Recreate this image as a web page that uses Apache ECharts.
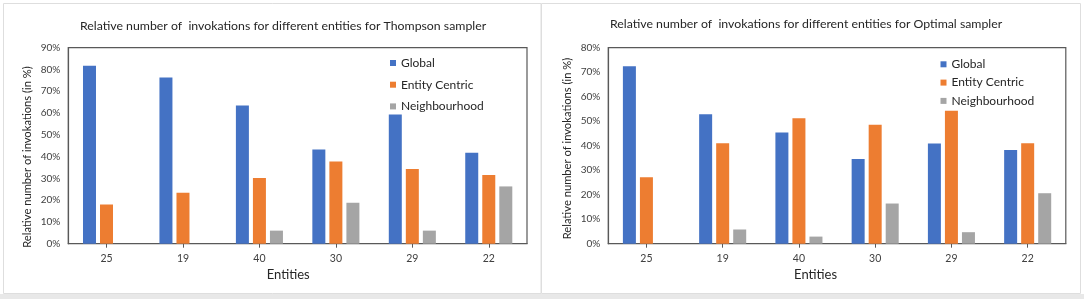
<!DOCTYPE html>
<html>
<head>
<meta charset="utf-8">
<script src="https://cdn.jsdelivr.net/npm/echarts@6/dist/echarts.min.js"></script>
<style>
  html, body { margin: 0; padding: 0; background: #fff; }
  #chart { width: 1084px; height: 299px; }
</style>
</head>
<body>
<div id="chart"></div>
<script>
// entities on the x axis (same order in both panels)
const entities = ['25', '19', '40', '30', '29', '22']

// Thompson sampler (left panel), percent
const thompsonGlobal = [81.7, 76.3, 63.5, 43.3, 59.3, 41.8]
const thompsonEntity = [18.0, 23.4, 30.2, 37.7, 34.3, 31.6]
const thompsonNeighbour = [0, 0, 6.0, 18.8, 6.0, 26.3]

// Optimal sampler (right panel), percent
const optimalGlobal = [72.4, 52.8, 45.4, 34.6, 40.9, 38.2]
const optimalEntity = [27.1, 41.0, 51.2, 48.6, 54.3, 41.0]
const optimalNeighbour = [0, 5.8, 2.9, 16.4, 4.7, 20.6]

const seriesNames = ['Global', 'Entity Centric', 'Neighbourhood']
const colors = ['#4472C4', '#ED7D31', '#A5A5A5']
const yName = 'Relative number of invokations (in %)'

const font = 'Lato, "Open Sans", sans-serif'
const axisColor = '#595959'
const textColor = '#404040'

const chart = echarts.init(document.getElementById('chart'))

function xAxisFor(gridIndex, namePad) {
  return {
    type: 'category',
    gridIndex: gridIndex,
    data: entities,
    name: 'Entities',
    nameLocation: 'middle',
    nameGap: 21,
    nameTextStyle: { color: '#262626', fontSize: 13, fontFamily: font, padding: [0, namePad, 0, 0] },
    axisLine: { lineStyle: { color: axisColor, width: 1.2 } },
    axisTick: { show: true, alignWithLabel: true, length: 4, lineStyle: { color: axisColor } },
    axisLabel: { color: textColor, fontSize: 10.5, fontFamily: font, margin: 9 }
  }
}

function yAxisFor(gridIndex, max) {
  return {
    type: 'value',
    gridIndex: gridIndex,
    min: 0,
    max: max,
    interval: 10,
    axisLine: { show: true, lineStyle: { color: axisColor, width: 1.2 } },
    axisTick: { show: false },
    splitLine: { show: false },
    axisLabel: { color: textColor, fontSize: 10, fontFamily: font, margin: 8, formatter: '{value}%' }
  }
}

function barSeries(name, data, idx, axisIndex) {
  return {
    name: name,
    type: 'bar',
    xAxisIndex: axisIndex,
    yAxisIndex: axisIndex,
    data: data,
    barWidth: 13,
    barGap: '31%',
    itemStyle: { color: colors[idx] }
  }
}

function legendAt(left, top, gap) {
  return {
    orient: 'vertical',
    left: left,
    top: top,
    padding: 0,
    icon: 'rect',
    itemWidth: 6,
    itemHeight: 6,
    itemGap: gap,
    data: seriesNames,
    textStyle: { color: '#262626', fontSize: 12, fontFamily: font, lineHeight: 14 }
  }
}

// rotated y axis titles, placed like the original
function yTitle(x, y) {
  return {
    type: 'text', silent: true, x: x, y: y, rotation: Math.PI / 2,
    style: { text: yName, fill: '#262626', font: '11.2px ' + font, align: 'center', verticalAlign: 'middle' }
  }
}

const option = {
  backgroundColor: '#fff',
  animation: false,
  color: colors,
  graphic: [
    { type: 'rect', silent: true, shape: { x: 3.5, y: 3.5, width: 537.5, height: 290 },
      style: { fill: 'none', stroke: '#dedede', lineWidth: 1 } },
    { type: 'rect', silent: true, shape: { x: 541.5, y: 3.5, width: 539, height: 290 },
      style: { fill: 'none', stroke: '#dedede', lineWidth: 1 } },
    { type: 'rect', silent: true, shape: { x: 0, y: 294, width: 1084, height: 5 },
      style: { fill: '#e8e8e8' } },
    yTitle(27.3, 157),
    yTitle(567.3, 148.5)
  ],
  title: [
    {
      text: 'Relative number of  invokations for different entities for Thompson sampler',
      left: 80, top: 20, padding: 0,
      textStyle: { color: '#262626', fontSize: 12.3, fontWeight: 'normal', fontFamily: font }
    },
    {
      text: 'Relative number of  invokations for different entities for Optimal sampler',
      left: 610, top: 18.5, padding: 0,
      textStyle: { color: '#262626', fontSize: 12.3, fontWeight: 'normal', fontFamily: font }
    }
  ],
  legend: [legendAt(390, 56, 7.7), legendAt(940.5, 57.3, 4.3)],
  grid: [
    { left: 68.3, top: 47.7, width: 458.7, height: 196, show: true, borderColor: axisColor, borderWidth: 1.2, backgroundColor: 'transparent' },
    { left: 608.3, top: 47.7, width: 457.5, height: 196, show: true, borderColor: axisColor, borderWidth: 1.2, backgroundColor: 'transparent' }
  ],
  xAxis: [xAxisFor(0, 19), xAxisFor(1, 43)],
  yAxis: [yAxisFor(0, 90), yAxisFor(1, 80)],
  series: [
    barSeries('Global', thompsonGlobal, 0, 0),
    barSeries('Entity Centric', thompsonEntity, 1, 0),
    barSeries('Neighbourhood', thompsonNeighbour, 2, 0),
    barSeries('Global', optimalGlobal, 0, 1),
    barSeries('Entity Centric', optimalEntity, 1, 1),
    barSeries('Neighbourhood', optimalNeighbour, 2, 1)
  ]
}

chart.setOption(option)
window.addEventListener('resize', () => chart.resize())
</script>
</body>
</html>
